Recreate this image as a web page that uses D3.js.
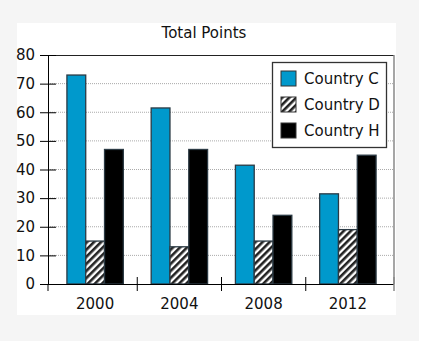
<!DOCTYPE html>
<html>
<head>
<meta charset="utf-8">
<script src="https://cdn.jsdelivr.net/npm/d3@7"></script>
<style>
  body { margin: 0; background: #fff; }
  text { font-family: "DejaVu Sans", Verdana, sans-serif; fill: #111; }
</style>
</head>
<body>
<div id="chart"></div>
<script>
// Chart data
var years = ["2000", "2004", "2008", "2012"];
var seriesNames = ["Country C", "Country D", "Country H"];
var countryC = [73, 61.5, 41.5, 31.5];
var countryD = [15, 13, 15, 19];
var countryH = [47, 47, 24, 45];
var yTicks = [0, 10, 20, 30, 40, 50, 60, 70, 80];

var seriesValues = [countryC, countryD, countryH];

// Define SVG area dimensions
var svgWidth = 431;
var svgHeight = 353;

var chartMargin = { top: 55, right: 37, bottom: 69, left: 48 };
var chartWidth = svgWidth - chartMargin.left - chartMargin.right;
var chartHeight = svgHeight - chartMargin.top - chartMargin.bottom;

var svg = d3.select("#chart")
  .append("svg")
  .attr("width", svgWidth)
  .attr("height", svgHeight);

// background panels
svg.append("rect").attr("x", 0).attr("y", 0).attr("width", 419).attr("height", 341).attr("fill", "#f5f5f5");
svg.append("rect").attr("x", 17).attr("y", 23).attr("width", 379).attr("height", 292).attr("fill", "#fff");

// hatch pattern
var defs = svg.append("defs");
var pat = defs.append("pattern")
  .attr("id", "hatch")
  .attr("patternUnits", "userSpaceOnUse")
  .attr("width", 5)
  .attr("height", 5)
  .attr("patternTransform", "rotate(45)");
pat.append("rect").attr("width", 5).attr("height", 5).attr("fill", "#fff");
pat.append("rect").attr("width", 2.6).attr("height", 5).attr("fill", "#222");

var chartGroup = svg.append("g")
  .attr("transform", `translate(${chartMargin.left}, ${chartMargin.top})`);

// year bands sit slightly inside the axis line, like the original
var xBandScale = d3.scaleBand()
  .domain(years)
  .range([5, chartWidth - 4])
  .padding(0);

var xInner = d3.scaleBand()
  .domain(seriesNames)
  .range([0, xBandScale.bandwidth()])
  .paddingInner(0)
  .paddingOuter(0.74);

var yLinearScale = d3.scaleLinear()
  .domain([0, 80])
  .range([chartHeight, 0]);

var fills = ["#0099cc", "url(#hatch)", "#000"];

// grid lines
chartGroup.append("g")
  .selectAll("line")
  .data(yTicks.filter(d => d > 0 && d < 80))
  .enter()
  .append("line")
  .attr("x1", 0)
  .attr("x2", chartWidth)
  .attr("y1", d => yLinearScale(d))
  .attr("y2", d => yLinearScale(d))
  .attr("stroke", "#aaa")
  .attr("stroke-width", 1)
  .attr("stroke-dasharray", "1,1");

// plot frame top & right
chartGroup.append("line")
  .attr("x1", 0).attr("x2", chartWidth).attr("y1", 0.5).attr("y2", 0.5)
  .attr("stroke", "#222");
chartGroup.append("line")
  .attr("x1", chartWidth).attr("x2", chartWidth).attr("y1", 0).attr("y2", chartHeight)
  .attr("stroke", "#888").attr("stroke-width", 1.5);

// bars
var groups = chartGroup.selectAll(".yearGroup")
  .data(years)
  .enter()
  .append("g")
  .attr("class", "yearGroup")
  .attr("transform", d => `translate(${xBandScale(d)}, 0)`);

groups.selectAll("rect")
  .data((d, i) => seriesNames.map((s, j) => ({ series: s, idx: j, value: seriesValues[j][i] })))
  .enter()
  .append("rect")
  .attr("x", d => xInner(d.series))
  .attr("y", d => yLinearScale(d.value))
  .attr("width", xInner.bandwidth())
  .attr("height", d => chartHeight - yLinearScale(d.value))
  .attr("fill", d => fills[d.idx])
  .attr("stroke", "#2b3a44")
  .attr("stroke-width", 1.3);

// axes
var leftAxis = d3.axisLeft(yLinearScale).tickValues(yTicks).tickSize(0).tickPadding(13);
var yAxisG = chartGroup.append("g").call(leftAxis);
yAxisG.select(".domain").attr("stroke", "#000");
yAxisG.selectAll(".tick line")
  .attr("x1", -8).attr("x2", 8).attr("stroke", "#000");
yAxisG.selectAll("text")
  .style("font-size", "15px")
  .style("font-family", "DejaVu Sans")
  .attr("fill", "#111");

var bottomAxis = d3.axisBottom(xBandScale).tickSize(0).tickPadding(14);
var xAxisG = chartGroup.append("g")
  .attr("transform", `translate(0, ${chartHeight})`)
  .call(bottomAxis);
xAxisG.select(".domain").remove();
xAxisG.append("line")
  .attr("x1", 0).attr("x2", chartWidth).attr("y1", 0.5).attr("y2", 0.5)
  .attr("stroke", "#000");
xAxisG.selectAll("text")
  .style("font-size", "15px")
  .style("font-family", "DejaVu Sans")
  .attr("fill", "#111");

// category separator ticks
xAxisG.append("g")
  .selectAll("line")
  .data(years.slice(1).concat(["end"]))
  .enter()
  .append("line")
  .attr("x1", d => d === "end" ? chartWidth : xBandScale(d))
  .attr("x2", d => d === "end" ? chartWidth : xBandScale(d))
  .attr("y1", -7)
  .attr("y2", 7)
  .attr("stroke", d => d === "end" ? "#888" : "#000")
  .attr("stroke-width", d => d === "end" ? 1.5 : 1);
xAxisG.append("line")
  .attr("x1", 0).attr("x2", 0).attr("y1", 0).attr("y2", 7).attr("stroke", "#000");

// title
svg.append("text")
  .attr("x", 204)
  .attr("y", 38)
  .attr("text-anchor", "middle")
  .style("font-size", "15px")
  .text("Total Points");

// legend
var legend = svg.append("g").attr("transform", "translate(272, 62)");
legend.append("rect")
  .attr("x", 0.5).attr("y", 0.5)
  .attr("width", 114).attr("height", 85)
  .attr("fill", "#fff")
  .attr("stroke", "#333")
  .attr("stroke-width", 1.3);

var items = legend.selectAll(".item")
  .data(seriesNames)
  .enter()
  .append("g")
  .attr("transform", (d, i) => `translate(9, ${9 + i * 26})`);
items.append("rect")
  .attr("width", 15).attr("height", 15)
  .attr("fill", (d, i) => fills[i])
  .attr("stroke", "#333");
items.append("text")
  .attr("x", 23)
  .attr("y", 13)
  .style("font-size", "15px")
  .text(d => d);
</script>
</body>
</html>
